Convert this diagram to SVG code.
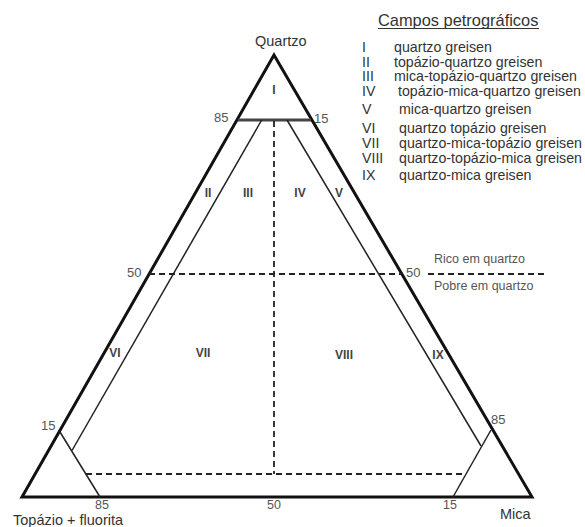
<svg xmlns="http://www.w3.org/2000/svg" width="585" height="527" viewBox="0 0 585 527">
<style>
.outer{fill:none;stroke:#111;stroke-width:3;stroke-linejoin:miter}
.inner{fill:none;stroke:#222;stroke-width:1.5}
.dash{fill:none;stroke:#222;stroke-width:1.8;stroke-dasharray:6 4}
.lbl{font-family:"Liberation Sans",Arial,sans-serif;font-size:14.5px;fill:#333}
.num{font-family:"Liberation Sans",Arial,sans-serif;font-size:13px;fill:#555}
.rom{font-family:"Liberation Sans",Arial,sans-serif;font-size:12px;font-weight:bold;fill:#444;text-anchor:middle}
.note{font-family:"Liberation Sans",Arial,sans-serif;font-size:12.5px;fill:#555}
.leg{font-family:"Liberation Sans",Arial,sans-serif;font-size:14.2px;fill:#333}
</style>
<rect width="585" height="527" fill="#fff"/>
<g id="connectors">
  <polygon class="outer" points="274,55 22,497 532,497"/>
  <line x1="238" y1="120" x2="311" y2="120" stroke="#444" stroke-width="2.8"/>
  <line class="inner" x1="261.7" y1="120" x2="72" y2="450.5"/>
  <line class="inner" x1="287" y1="120" x2="481" y2="446"/>
  <line class="inner" x1="60" y1="432" x2="100" y2="497"/>
  <line class="inner" x1="491" y1="430" x2="453" y2="497"/>
  <line class="dash" x1="274" y1="121" x2="274" y2="474"/>
  <line class="dash" x1="86" y1="474" x2="466" y2="474"/>
  <line class="dash" x1="149" y1="274" x2="402" y2="274"/>
  <line class="dash" x1="428" y1="274" x2="548" y2="274"/>
</g>
<g id="vertices">
  <text class="lbl" x="255" y="46">Quartzo</text>
  <text class="lbl" x="13" y="525">Topázio + fluorita</text>
  <text class="lbl" x="500" y="519">Mica</text>
</g>
<g id="ticks">
  <text class="num" x="214" y="122">85</text>
  <text class="num" x="314" y="123">15</text>
  <text class="num" x="127" y="277">50</text>
  <text class="num" x="406" y="277">50</text>
  <text class="num" x="41" y="430">15</text>
  <text class="num" x="491" y="424">85</text>
  <text class="num" x="95" y="509" style="font-size:12.5px">85</text>
  <text class="num" x="267" y="509" style="font-size:12.5px">50</text>
  <text class="num" x="443" y="509" style="font-size:12.5px">15</text>
</g>
<g id="notes">
  <text class="note" x="434" y="263">Rico em quartzo</text>
  <text class="note" x="434" y="290">Pobre em quartzo</text>
</g>
<g id="fields">
  <text class="rom" x="274" y="94">I</text>
  <text class="rom" x="208" y="197">II</text>
  <text class="rom" x="248" y="197">III</text>
  <text class="rom" x="300" y="197">IV</text>
  <text class="rom" x="339" y="197">V</text>
  <text class="rom" x="115" y="357">VI</text>
  <text class="rom" x="203" y="357">VII</text>
  <text class="rom" x="344" y="359">VIII</text>
  <text class="rom" x="438" y="359">IX</text>
</g>
<g id="legend">
  <text class="lbl" x="378" y="26" style="font-size:16.4px">Campos petrográficos</text>
  <line x1="378" y1="28.5" x2="539" y2="28.5" stroke="#333" stroke-width="1"/>
  <text class="leg" x="362" y="52">I</text><text class="leg" x="394" y="52">quartzo greisen</text>
  <text class="leg" x="362" y="66.5">II</text><text class="leg" x="394" y="66.5">topázio-quartzo greisen</text>
  <text class="leg" x="362" y="81">III</text><text class="leg" x="394" y="81">mica-topázio-quartzo greisen</text>
  <text class="leg" x="362" y="95.5">IV</text><text class="leg" x="398" y="95.5">topázio-mica-quartzo greisen</text>
  <text class="leg" x="362" y="114">V</text><text class="leg" x="399" y="114">mica-quartzo greisen</text>
  <text class="leg" x="362" y="132.5">VI</text><text class="leg" x="399" y="132.5">quartzo topázio greisen</text>
  <text class="leg" x="362" y="147.5">VII</text><text class="leg" x="399" y="147.5">quartzo-mica-topázio greisen</text>
  <text class="leg" x="362" y="162.5">VIII</text><text class="leg" x="399" y="162.5">quartzo-topázio-mica greisen</text>
  <text class="leg" x="362" y="180">IX</text><text class="leg" x="399" y="180">quartzo-mica greisen</text>
</g>
</svg>
